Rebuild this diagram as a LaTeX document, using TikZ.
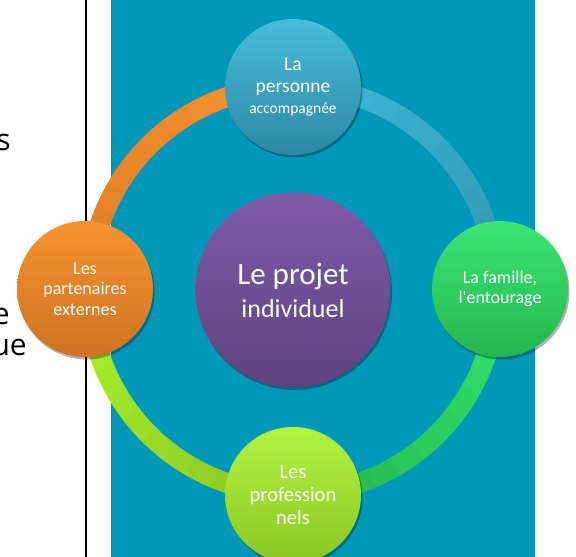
\documentclass[tikz,border=0pt]{standalone}
\usepackage{fontspec}
\setmainfont{Carlito}[Ligatures=TeXOff]
\newfontfamily\sidefont{Open Sans}
\usetikzlibrary{shadows}

\tikzset{
  bubble/.style={circle, inner sep=0pt, minimum size=136pt, text=white, align=center,
    drop shadow={shadow xshift=1.5pt, shadow yshift=-2.5pt, opacity=.3, fill=black}},
  ringseg/.style={line width=20pt, line cap=butt},
  sidetext/.style={anchor=base east, inner sep=0pt, font=\sidefont\fontsize{30}{36}\selectfont}
}

\begin{document}
\begin{tikzpicture}[x=1pt,y=-1pt]
		\definecolor{bgteal}{HTML}{0098B9}
		\definecolor{orangeL}{HTML}{F7932F}
		\definecolor{orangeD}{HTML}{E07D27}
		\definecolor{blueL}{HTML}{3DB9DA}
		\definecolor{blueD}{HTML}{3397B6}
		\definecolor{greenL}{HTML}{30E46C}
		\definecolor{greenD}{HTML}{26B64E}
		\definecolor{limeL}{HTML}{A9F22C}
		\definecolor{limeD}{HTML}{8BC623}
		
		\useasboundingbox[fill=white] (0,0) rectangle (576,557);
		\fill[bgteal] (111,0) rectangle (535,557);
		\draw[line width=2pt] (86,0) -- (86,557);
		
		% cut-off text on the left
		\node[sidetext] (s1) at (11,150) {s};
		\node[sidetext] (s2) at (10,324) {e};
		\node[sidetext] (s3) at (27,355) {ue};
		
		% ring, lighter at the top of each quarter
		\coordinate (ctr) at (293,290);
		\foreach \s/\e/\cl/\cd in {90/180/orangeL/orangeD, 90/0/blueL/blueD, 0/-90/greenL/greenD, 180/270/limeL/limeD}{
			\foreach \i in {0,...,11}{
				\pgfmathsetmacro\ta{\s+(\e-\s)*\i/12}
				\pgfmathsetmacro\tb{\s+(\e-\s)*(\i+1.15)/12}
				\pgfmathtruncatemacro\p{100-\i*100/11}
				\draw[ringseg, color=\cl!\p!\cd] (ctr) ++(\ta:204pt) arc[start angle=\ta, end angle=\tb, radius=204pt];
			}
		}
		
		% circles
		\node[bubble, top color=blueL!95!white, bottom color=blueD!90!black,
			font=\fontsize{19.5}{22}\selectfont] (pers) at (293,87) {
			La\\personne\\[-1pt]{\fontsize{15.5}{18}\selectfont accompagnée}};
		\node[bubble, top color=greenL!95!white, bottom color=greenD,
			font=\fontsize{18}{20.5}\selectfont] (fam) at (500,289) {La famille,\\l'entourage};
		\node[bubble, top color=limeL!90!white, bottom color=limeD,
			font=\fontsize{20.5}{23}\selectfont] (pro) at (293,495) {Les\\profession\\nels};
		\node[bubble, top color=orangeL, bottom color=orangeD!92!black,
			font=\fontsize{18}{20.7}\selectfont] (part) at (85,289) {Les\\partenaires\\externes};
		\node[bubble, minimum size=195pt, top color={rgb,255:red,127;green,90;blue,170}, bottom color={rgb,255:red,94;green,67;blue,127},
			font=\fontsize{31}{33}\selectfont] (proj) at (ctr) {
			Le projet\\{\fontsize{26}{30}\selectfont individuel}};
\end{tikzpicture}
\end{document}
